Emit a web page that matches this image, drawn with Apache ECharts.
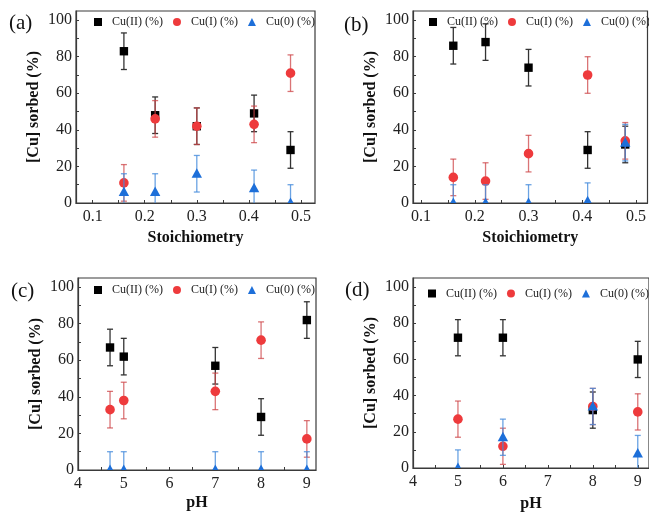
<!DOCTYPE html>
<html>
<head>
<meta charset="utf-8">
<title>Cu sorbed</title>
<script src="https://cdn.jsdelivr.net/npm/echarts@6/dist/echarts.min.js"></script>
<style>
  html, body { margin: 0; padding: 0; background: #fff; }
  #chart { width: 649px; height: 513px; }
</style>
</head>
<body>
<div id="chart"></div>
<script>
// ---- data ----
var seriesNames = ['Cu(II) (%)', 'Cu(I) (%)', 'Cu(0) (%)'];

// (a) stoichiometry
var aX    = [0.16, 0.22, 0.30, 0.41, 0.48];
var aCu2  = [83, 48, 42, 49, 29];
var aCu1  = [11, 46, 42, 43, 71];
var aCu0  = [6, 6, 16, 8, 0];
var aErr  = [10, 10, 10, 10, 10];

// (b) stoichiometry
var bX    = [0.16, 0.22, 0.30, 0.41, 0.48];
var bCu2  = [86, 88, 74, 29, 32];
var bCu1  = [14, 12, 27, 70, 34];
var bCu0  = [0, 0, 0, 1, 33];
var bErr  = [10, 10, 10, 10, 10];

// (c) pH
var cX    = [4.7, 5, 7, 8, 9];
var cCu2  = [67, 62, 57, 29, 82];
var cCu1  = [33, 38, 43, 71, 17];
var cCu0  = [0, 0, 0, 0, 0];
var cErr  = [10, 10, 10, 10, 10];

// (d) pH
var dX    = [5, 6, 8, 9];
var dCu2  = [72, 72, 32, 60];
var dCu1  = [27, 12, 34, 31];
var dCu0  = [0, 17, 34, 8];
var dErr  = [10, 10, 10, 10];

// tick labels
var stoichLabels = [0.1, 0.2, 0.3, 0.4, 0.5];
var stoichTicks  = [0.1, 0.15, 0.2, 0.25, 0.3, 0.35, 0.4, 0.45, 0.5];
var pHLabels     = [4, 5, 6, 7, 8, 9];
var pHTicks      = [4, 4.5, 5, 5.5, 6, 6.5, 7, 7.5, 8, 8.5, 9];
var yLabels      = [0, 20, 40, 60, 80, 100];
var yTicks       = [0, 10, 20, 30, 40, 50, 60, 70, 80, 90, 100];

// ---- layout ----
var panels = [
  { tag: '(a)', tagPos: [9, 13],   grid: { left: 76,  top: 11,  width: 239, height: 192 }, xMin: 0.068, xMax: 0.527, xName: 'Stoichiometry', nameGap: 27, lab: stoichLabels, tk: stoichTicks, legend: [94, 16], x: aX, y: [aCu2, aCu1, aCu0], e: aErr },
  { tag: '(b)', tagPos: [344, 15], grid: { left: 413, top: 11,  width: 240, height: 192 }, xMin: 0.085, xMax: 0.5214, xName: 'Stoichiometry', nameGap: 27, lab: stoichLabels, tk: stoichTicks, legend: [429, 16], x: bX, y: [bCu2, bCu1, bCu0], e: bErr },
  { tag: '(c)', tagPos: [11, 281], grid: { left: 78,  top: 278, width: 238, height: 192 }, xMin: 4, xMax: 9.2, xName: 'pH', nameGap: 25, lab: pHLabels, tk: pHTicks, legend: [94, 284], x: cX, y: [cCu2, cCu1, cCu0], e: cErr },
  { tag: '(d)', tagPos: [345, 280], grid: { left: 413, top: 278, width: 240, height: 192 }, xMin: 4, xMax: 9.25, xName: 'pH', nameGap: 28, lab: pHLabels, tk: pHTicks, legend: [428, 287.5], x: dX, y: [dCu2, dCu1, dCu0], e: dErr }
];

var markColor = ['#000000', '#ee3a3c', '#1d6fd9'];
var barColor  = ['#333333', 'rgba(205,70,72,0.75)', 'rgba(70,140,220,0.8)'];
var shapes    = ['rect', 'circle', 'triangle'];
var serif = '"Liberation Serif", "DejaVu Serif", serif';
var axisCol = '#3a3a3a';

function errRender(k) {
  return function (params, api) {
    var x = api.value(0), y = api.value(1), e = api.value(2);
    var p  = api.coord([x, y]);
    var hi = api.coord([x, y + e]);
    var lo = api.coord([x, y - e]);
    var cw = 3;
    var lineStyle = { stroke: barColor[k], lineWidth: 1.3 };
    var kids = [
      { type: 'line', shape: { x1: hi[0], y1: hi[1], x2: lo[0], y2: lo[1] }, style: lineStyle },
      { type: 'line', shape: { x1: hi[0] - cw, y1: hi[1], x2: hi[0] + cw, y2: hi[1] }, style: lineStyle },
      { type: 'line', shape: { x1: lo[0] - cw, y1: lo[1], x2: lo[0] + cw, y2: lo[1] }, style: lineStyle }
    ];
    var fill = { fill: markColor[k] };
    if (shapes[k] === 'rect') {
      kids.push({ type: 'rect', shape: { x: p[0] - 4.2, y: p[1] - 4.2, width: 8.4, height: 8.4 }, style: fill });
    } else if (shapes[k] === 'circle') {
      kids.push({ type: 'circle', shape: { cx: p[0], cy: p[1], r: 4.8 }, style: fill });
    } else {
      kids.push({ type: 'polygon', shape: { points: [[p[0], p[1] - 5.5], [p[0] + 5.2, p[1] + 4], [p[0] - 5.2, p[1] + 4]] }, style: fill });
    }
    return { type: 'group', children: kids };
  };
}

var option = {
  backgroundColor: '#fff',
  animation: false,
  title: [], legend: [], grid: [], xAxis: [], yAxis: [], series: []
};

panels.forEach(function (pn, i) {
  option.title.push({
    text: pn.tag, left: pn.tagPos[0], top: pn.tagPos[1], padding: 0,
    textStyle: { fontFamily: serif, fontSize: 21, fontWeight: 'normal', color: '#111' }
  });
  option.grid.push(Object.assign({ show: true, borderColor: axisCol, borderWidth: 1.2, backgroundColor: 'transparent' }, pn.grid));
  option.xAxis.push({
    type: 'value', gridIndex: i, min: pn.xMin, max: pn.xMax,
    name: pn.xName, nameLocation: 'middle', nameGap: pn.nameGap,
    nameTextStyle: { fontFamily: serif, fontSize: 16, fontWeight: 'bold', color: '#111' },
    axisLine: { show: true, onZero: false, lineStyle: { color: axisCol, width: 1.2 } },
    axisTick: { show: true, inside: true, length: 3, customValues: pn.tk, lineStyle: { color: axisCol } },
    axisLabel: { customValues: pn.lab, margin: 6, fontFamily: serif, fontSize: 16, color: '#222' },
    splitLine: { show: false }
  });
  option.yAxis.push({
    type: 'value', gridIndex: i, min: 0, max: 105,
    name: '[Cu] sorbed (%)', nameLocation: 'middle', nameGap: 34,
    nameTextStyle: { fontFamily: serif, fontSize: 16, fontWeight: 'bold', color: '#111' },
    axisLine: { show: true, lineStyle: { color: axisCol, width: 1.2 } },
    axisTick: { show: true, inside: true, length: 3, customValues: yTicks, lineStyle: { color: axisCol } },
    axisLabel: { customValues: yLabels, margin: 4, fontFamily: serif, fontSize: 16, color: '#222' },
    splitLine: { show: false }
  });
  option.legend.push({
    left: pn.legend[0], top: pn.legend[1], width: 320, padding: 0, itemGap: 10,
    itemWidth: 8, itemHeight: 8, selectedMode: false,
    textStyle: { fontFamily: serif, fontSize: 12, color: '#222', padding: [0, 0, 0, 5] },
    data: seriesNames.map(function (n, k) { return { name: n, icon: shapes[k] }; })
  });
  for (var k = 0; k < 3; k++) {
    var pts = pn.x.map(function (xv, j) { return [xv, pn.y[k][j], pn.e[j]]; });
    option.series.push({
      name: seriesNames[k], type: 'custom', xAxisIndex: i, yAxisIndex: i,
      clip: true, itemStyle: { color: markColor[k] },
      encode: { x: 0, y: 1 },
      renderItem: errRender(k),
      data: pts
    });
  }
});

var chart = echarts.init(document.getElementById('chart'), null, { renderer: 'canvas' });
chart.setOption(option);
</script>
</body>
</html>
